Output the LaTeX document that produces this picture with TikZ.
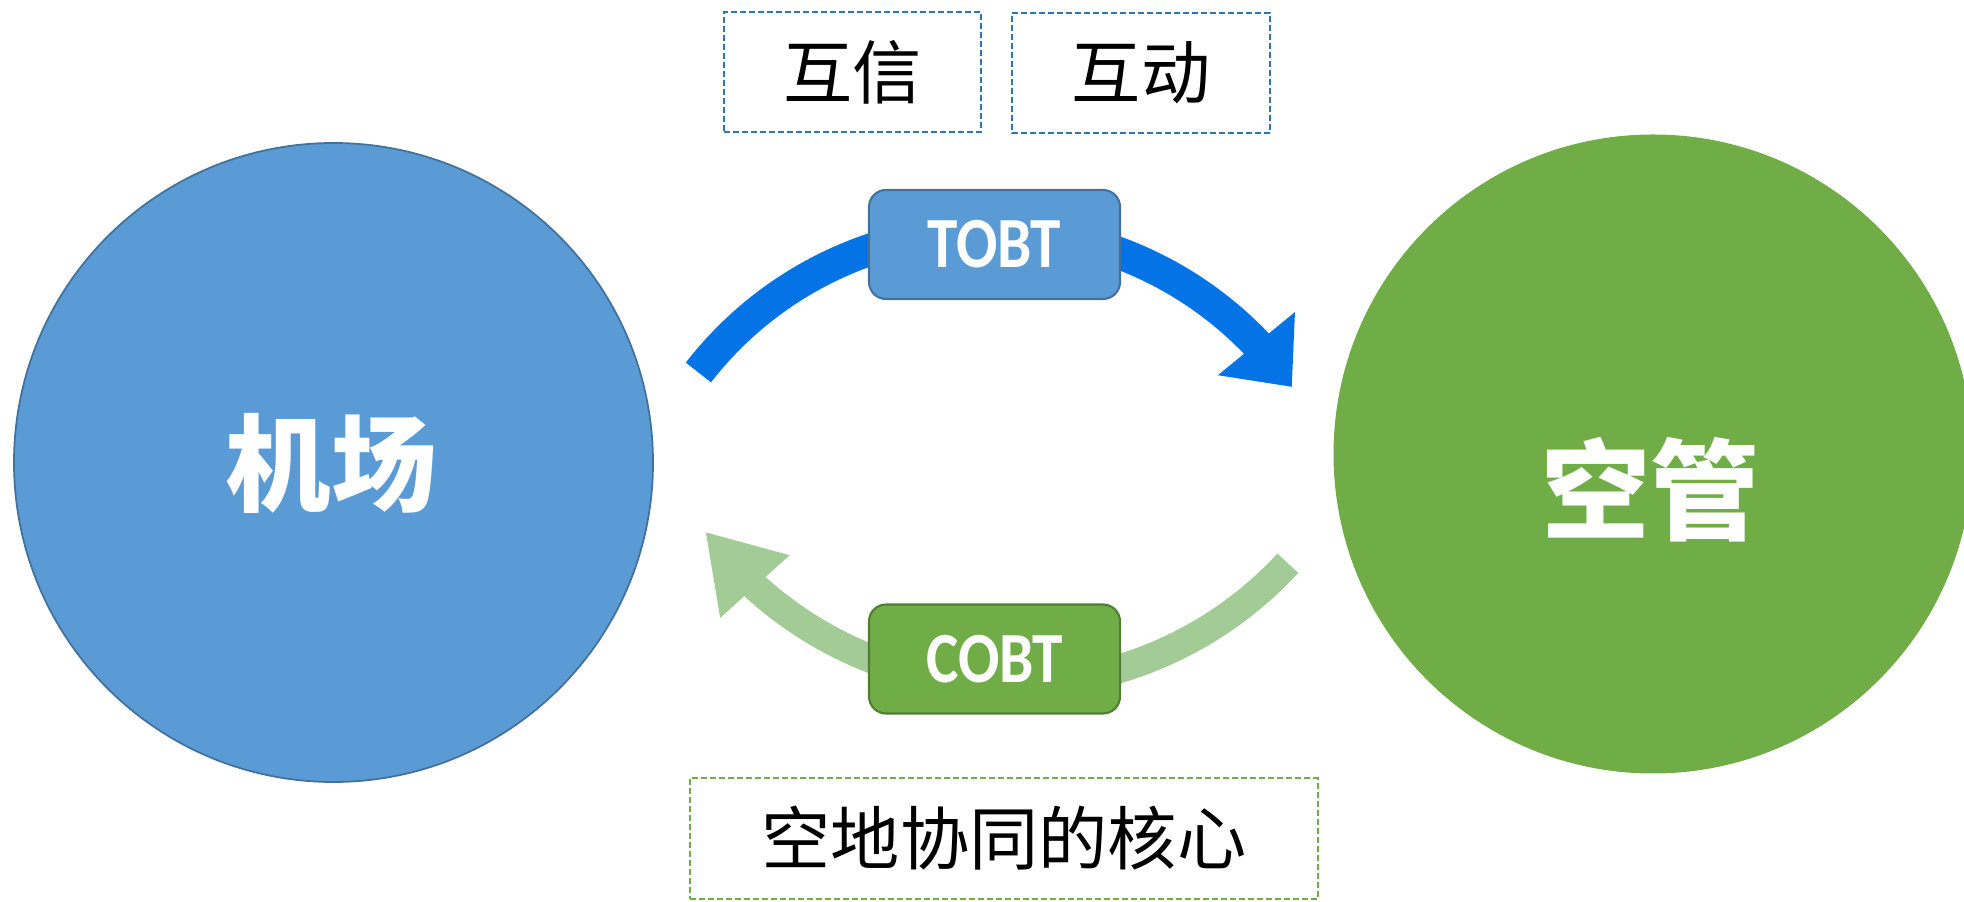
\documentclass[tikz,border=0pt]{standalone}
\usepackage{fontspec}
\usepackage{xcolor}
\usepackage{tikz}
\usetikzlibrary{arrows.meta,bending}
\newfontfamily\cjk{Noto Sans CJK SC}
\newfontfamily\tagfont{Carlito}

\definecolor{airblue}{HTML}{5B9BD5}
\definecolor{airedge}{HTML}{41719C}
\definecolor{atcgreen}{HTML}{70AD47}
\definecolor{atcedge}{HTML}{507E32}
\definecolor{tobtarrow}{HTML}{0473E6}
\definecolor{cobtarrow}{HTML}{A2CB96}
\definecolor{dashblue}{HTML}{2E75B6}

\tikzset{
	bigcircle/.style={circle, inner sep=0pt, minimum size=6.39cm},
	bigtext/.style={text=white, font=\cjk\bfseries\fontsize{30}{30}\selectfont},
	tagbox/.style={rectangle, rounded corners=0.17cm, minimum width=2.51cm, minimum height=1.09cm, line width=0.6pt, text=white, font=\tagfont\bfseries\fontsize{20.5}{20.5}\selectfont},
	notebox/.style={draw, dash pattern=on 0.06cm off 0.03cm, line width=0.02cm, minimum height=1.2cm, font=\cjk\fontsize{19.7}{19.7}\selectfont}
}

\begin{document}
\begin{tikzpicture}
	\useasboundingbox (0,0) rectangle (19.64,9.01);
	% the two sides
	\node[bigcircle, fill=airblue, draw=airedge, line width=0.5pt] (airport) at (3.335,4.385) {};
	\node[bigcircle, fill=atcgreen] (atc) at (16.53,4.47) {};
	\node[bigtext] (airporttext) at (3.31,4.38) {机场};
	\node[bigtext, font=\cjk\bfseries\fontsize{31}{31}\selectfont] (atctext) at (16.50,4.11) {空管};
	% arcs between them
	\coordinate (tobthub) at (9.898,3.025);
	\coordinate (cobthub) at (10.096,5.945);
	\coordinate (tobttail) at ([shift={(142.2:3.688)}]tobthub);
	\coordinate (cobttail) at ([shift={(-42.7:3.786)}]cobthub);
	\draw[line width=0.32cm, tobtarrow, -{Triangle[length=0.56cm,width=0.96cm,flex]}] (tobttail) arc[start angle=142.2, end angle=35, radius=3.688];
	\draw[line width=0.285cm, cobtarrow, -{Triangle[length=0.74cm,width=0.88cm,flex]}] (cobttail) arc[start angle=-42.7, end angle=-143.5, radius=3.786];
	\node[tagbox, fill=airblue, draw=airedge] (tobt) at (9.945,6.565) {\scalebox{0.85}[1]{TOBT}};
	\node[tagbox, fill=atcgreen, draw=atcedge] (cobt) at (9.945,2.42) {\scalebox{0.85}[1]{COBT}};
	% notes
	\node[notebox, draw=dashblue, minimum width=2.57cm] (trust) at (8.525,8.29) {互信};
	\node[notebox, draw=dashblue, minimum width=2.58cm] (interact) at (11.41,8.28) {互动};
	\node[notebox, draw=atcgreen, minimum width=6.28cm] (core) at (10.04,0.625) {空地协同的核心};
\end{tikzpicture}
\end{document}
